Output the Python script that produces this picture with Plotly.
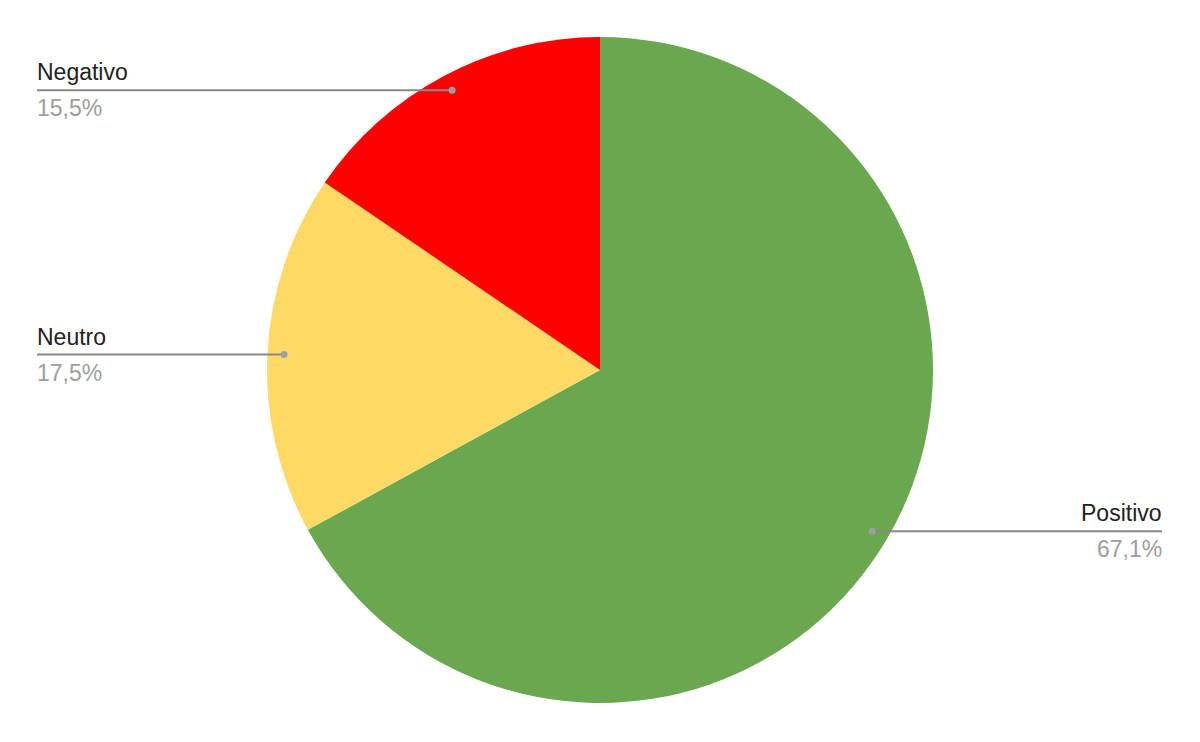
import math
import plotly.graph_objects as go

# data
labels = ["Positivo", "Neutro", "Negativo"]
values = [67.1, 17.5, 15.5]
colors = ["#6aa84f", "#ffd966", "#ff0000"]

# page body adds an 8px margin, so the figure is a bit smaller than the window
W, H = 1184, 726
M_T, M_B, M_L, M_R = 29, 31, 0, 0
PLOT_W = W - M_L - M_R
PLOT_H = H - M_T - M_B
CX, CY = M_L + PLOT_W / 2, M_T + PLOT_H / 2
R = min(PLOT_W, PLOT_H) / 2
LEFT_END, RIGHT_END = 29, 1154


def px_to_paper(px, py):
    return (px - M_L) / PLOT_W, (H - M_B - py) / PLOT_H


fig = go.Figure(go.Pie(
    labels=labels,
    values=values,
    sort=False,
    direction="clockwise",
    rotation=0,
    marker=dict(colors=colors, line=dict(width=0)),
    textinfo="none",
    hoverinfo="label+percent",
    showlegend=False,
))

# leader lines + labels, placed at each slice's mid angle
shapes, annotations = [], []
total = sum(values)
cum = 0
for lab, v in zip(labels, values):
    mid = (cum + v / 2) / total * 2 * math.pi
    cum += v
    dx, dy = math.sin(mid) * R * 0.95, -math.cos(mid) * R * 0.95
    dot_x, dot_y = CX + dx, CY + dy
    right = dx > 0
    end_x = RIGHT_END if right else LEFT_END
    x0, y0 = px_to_paper(dot_x, dot_y)
    x1, _ = px_to_paper(end_x, dot_y)
    shapes.append(dict(type="line", xref="paper", yref="paper",
                       x0=x0, y0=y0, x1=x1, y1=y0,
                       line=dict(color="#888888", width=2)))
    shapes.append(dict(type="circle", xref="paper", yref="paper",
                       xsizemode="pixel", ysizemode="pixel",
                       xanchor=x0, yanchor=y0, x0=-3.5, x1=3.5, y0=-3.5, y1=3.5,
                       fillcolor="#9e9e9e", line=dict(width=0)))
    anchor = "right" if right else "left"
    xs = 2 if right else -2
    annotations.append(dict(x=x1, y=y0, xref="paper", yref="paper",
                            text=lab, showarrow=False, xanchor=anchor, yanchor="bottom",
                            xshift=xs, yshift=3,
                            font=dict(size=23, color="#222222")))
    annotations.append(dict(x=x1, y=y0, xref="paper", yref="paper",
                            text=f"{v:.1f}%".replace(".", ","), showarrow=False,
                            xanchor=anchor, yanchor="top",
                            xshift=xs, yshift=-3,
                            font=dict(size=23, color="#9e9e9e")))

fig.update_layout(
    width=W, height=H,
    margin=dict(l=M_L, r=M_R, t=M_T, b=M_B),
    paper_bgcolor="white",
    font=dict(family="Liberation Sans, Arial, sans-serif"),
    shapes=shapes,
    annotations=annotations,
)

fig.write_html("out.html")
